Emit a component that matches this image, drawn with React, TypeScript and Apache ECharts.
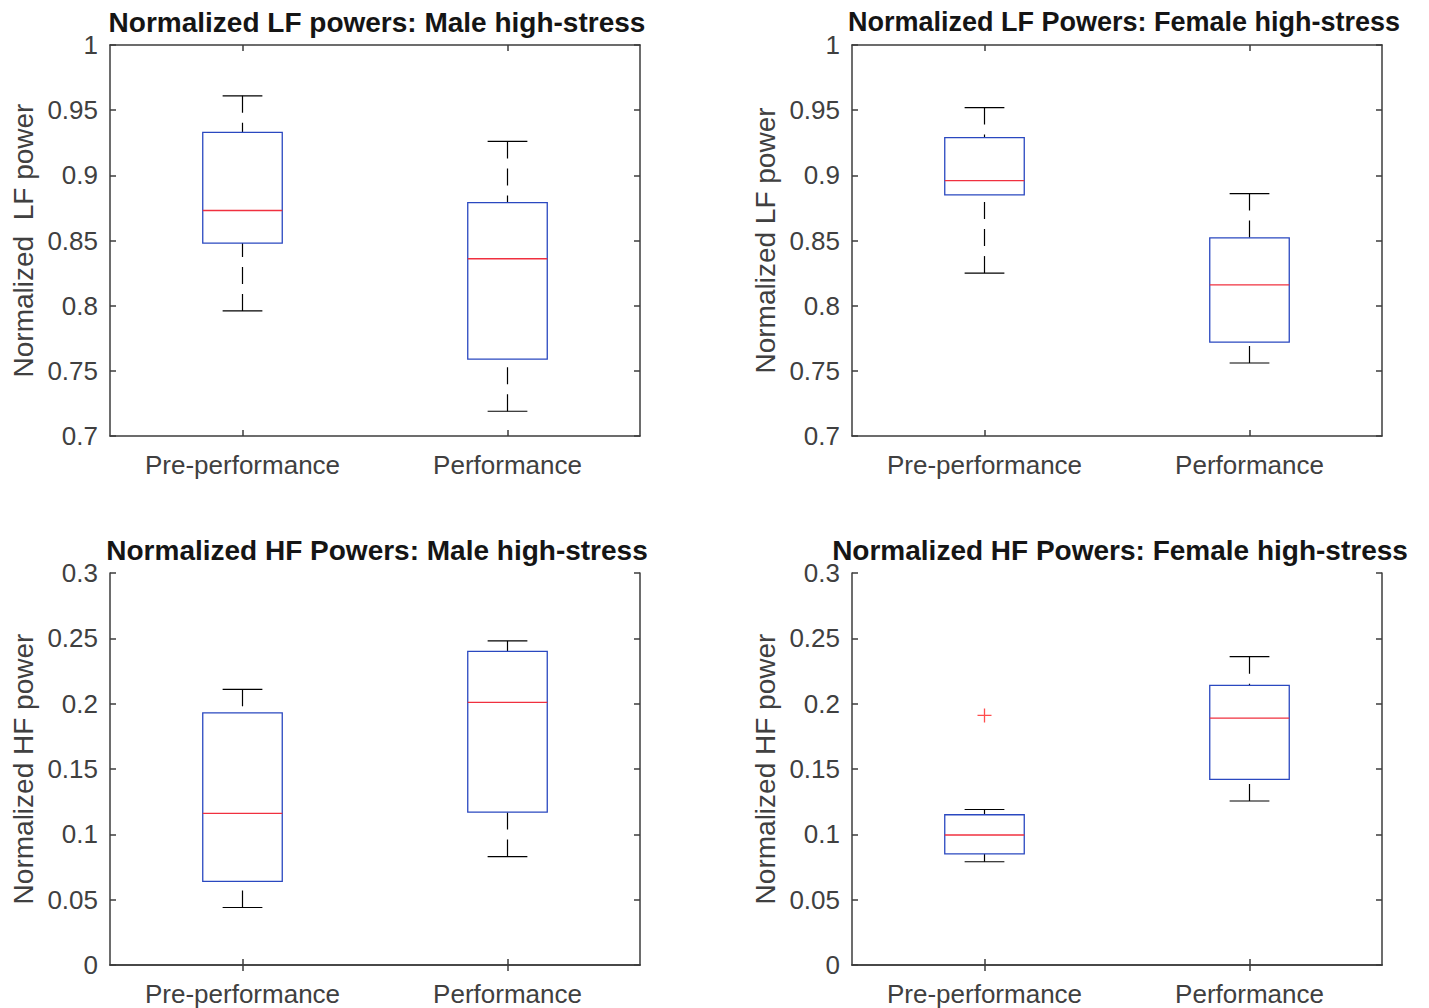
import React, { useEffect, useRef } from "react";
import * as echarts from "echarts";

const categories = ["Pre-performance", "Performance"];

// [lower whisker, Q1, median, Q3, upper whisker]
const lfMale = [
  [0.796, 0.848, 0.873, 0.933, 0.961],
  [0.719, 0.759, 0.836, 0.879, 0.926],
];
const lfFemale = [
  [0.825, 0.885, 0.896, 0.929, 0.952],
  [0.756, 0.772, 0.816, 0.852, 0.886],
];
const hfMale = [
  [0.044, 0.064, 0.116, 0.193, 0.211],
  [0.083, 0.117, 0.201, 0.240, 0.248],
];
const hfFemale = [
  [0.079, 0.085, 0.0995, 0.115, 0.119],
  [0.1255, 0.142, 0.189, 0.214, 0.236],
];
const lfMaleOutliers: number[][] = [];
const lfFemaleOutliers: number[][] = [];
const hfMaleOutliers: number[][] = [];
const hfFemaleOutliers = [[0, 0.191]];

const titles = [
  "Normalized LF powers: Male high-stress",
  "Normalized LF Powers: Female high-stress",
  "Normalized HF Powers: Male high-stress",
  "Normalized HF Powers: Female high-stress",
];
const yNames = [
  "Normalized  LF power",
  "Normalized LF power",
  "Normalized HF power",
  "Normalized HF power",
];
const yRanges = [
  [0.7, 1, 0.05],
  [0.7, 1, 0.05],
  [0, 0.3, 0.05],
  [0, 0.3, 0.05],
];

const AXIS = "#3d3d3d";
const TEXT = "#404040";
const FONT = "'Liberation Sans', Arial, Helvetica, sans-serif";

const grids = [
  { left: 110, top: 45, width: 530, height: 391 },
  { left: 852, top: 45, width: 530, height: 391 },
  { left: 110, top: 573, width: 530, height: 392 },
  { left: 852, top: 573, width: 530, height: 392 },
];
const titleSizes = [28, 27, 28, 28];
const titleShift = [-3, 2, -3, -2];

function renderBox(params: any, api: any) {
  const x = api.value(0);
  const lo = api.coord([x, api.value(1)]);
  const q1 = api.coord([x, api.value(2)]);
  const med = api.coord([x, api.value(3)]);
  const q3 = api.coord([x, api.value(4)]);
  const hi = api.coord([x, api.value(5)]);
  const bw = api.size([1, 0])[0];
  const hb = bw * 0.15;
  const hc = bw * 0.075;
  const cx = lo[0];
  const whisk = { stroke: "#000", lineWidth: 1.2, lineDash: [17, 10] };
  const solid = { stroke: "#000", lineWidth: 1.2 };
  return {
    type: "group",
    children: [
      { type: "line", shape: { x1: cx, y1: hi[1], x2: cx, y2: q3[1] }, style: whisk },
      { type: "line", shape: { x1: cx, y1: lo[1], x2: cx, y2: q1[1] }, style: whisk },
      { type: "line", shape: { x1: cx - hc, y1: hi[1], x2: cx + hc, y2: hi[1] }, style: solid },
      { type: "line", shape: { x1: cx - hc, y1: lo[1], x2: cx + hc, y2: lo[1] }, style: solid },
      {
        type: "rect",
        shape: { x: cx - hb, y: q3[1], width: hb * 2, height: q1[1] - q3[1] },
        style: { fill: "none", stroke: "#2a48c0", lineWidth: 1.3 },
      },
      { type: "line", shape: { x1: cx - hb, y1: med[1], x2: cx + hb, y2: med[1] }, style: { stroke: "#f0303f", lineWidth: 1.3 } },
    ],
  };
}

export default function App() {
  const ref = useRef<HTMLDivElement>(null);
  useEffect(() => {
    if (!ref.current) return;
    const chart = echarts.init(ref.current, null, { renderer: "svg" });
    const datasets = [lfMale, lfFemale, hfMale, hfFemale];
    const outliers = [lfMaleOutliers, lfFemaleOutliers, hfMaleOutliers, hfFemaleOutliers];
    const xAxis: any[] = [];
    const yAxis: any[] = [];
    const series: any[] = [];
    const title: any[] = [];
    grids.forEach((g, i) => {
      const axisLine = { show: true, lineStyle: { color: AXIS, width: 1.5 } };
      const axisTick = { show: true, inside: true, length: 6, alignWithLabel: true, lineStyle: { color: AXIS, width: 1.5 } };
      xAxis.push({
        gridIndex: i, type: "category", data: categories, position: "bottom", boundaryGap: true,
        axisLine, axisTick,
        axisLabel: { color: TEXT, fontSize: 26, fontFamily: FONT, margin: 16 },
        splitLine: { show: false },
      });
      xAxis.push({
        gridIndex: i, type: "category", data: categories, position: "top", boundaryGap: true,
        axisLine, axisTick, axisLabel: { show: false }, splitLine: { show: false },
      });
      const [mn, mx, iv] = yRanges[i];
      const fmt = (v: number) => String(+v.toFixed(2));
      yAxis.push({
        gridIndex: i, type: "value", min: mn, max: mx, interval: iv, position: "left",
        axisLine, axisTick: { ...axisTick, alignWithLabel: undefined },
        axisLabel: { color: TEXT, fontSize: 26, fontFamily: FONT, margin: 12, formatter: fmt },
        splitLine: { show: false },
        name: yNames[i], nameLocation: "middle", nameRotate: 90, nameGap: 73,
        nameTextStyle: { color: TEXT, fontSize: 28, fontFamily: FONT },
      });
      yAxis.push({
        gridIndex: i, type: "value", min: mn, max: mx, interval: iv, position: "right",
        axisLine, axisTick: { ...axisTick, alignWithLabel: undefined }, axisLabel: { show: false },
        splitLine: { show: false },
      });
      series.push({
        type: "custom",
        xAxisIndex: i * 2,
        yAxisIndex: i * 2,
        renderItem: renderBox,
        encode: { x: 0, y: [1, 2, 3, 4, 5] },
        data: datasets[i].map((d, k) => [k, ...d]),
        z: 3,
      });
      if (outliers[i].length) {
        series.push({
          type: "scatter",
          xAxisIndex: i * 2,
          yAxisIndex: i * 2,
          symbol: "path://M0,5L10,5M5,0L5,10",
          symbolSize: 14,
          itemStyle: { color: "none", borderColor: "#ff2020", borderWidth: 1.3 },
          data: outliers[i],
          z: 4,
        });
      }
      title.push({
        text: titles[i],
        left: g.left + g.width / 2 + titleShift[i],
        top: g.top - 42,
        textAlign: "center",
        textStyle: { color: "#151515", fontSize: titleSizes[i], fontWeight: "bold", fontFamily: FONT },
      });
    });
    chart.setOption({
      animation: false,
      backgroundColor: "#fff",
      title,
      grid: grids.map((g) => ({ ...g, containLabel: false })),
      xAxis,
      yAxis,
      series,
    });
    return () => chart.dispose();
  }, []);
  return <div ref={ref} style={{ position: "fixed", left: 0, top: 0, width: 1429, height: 1008 }} />;
}
